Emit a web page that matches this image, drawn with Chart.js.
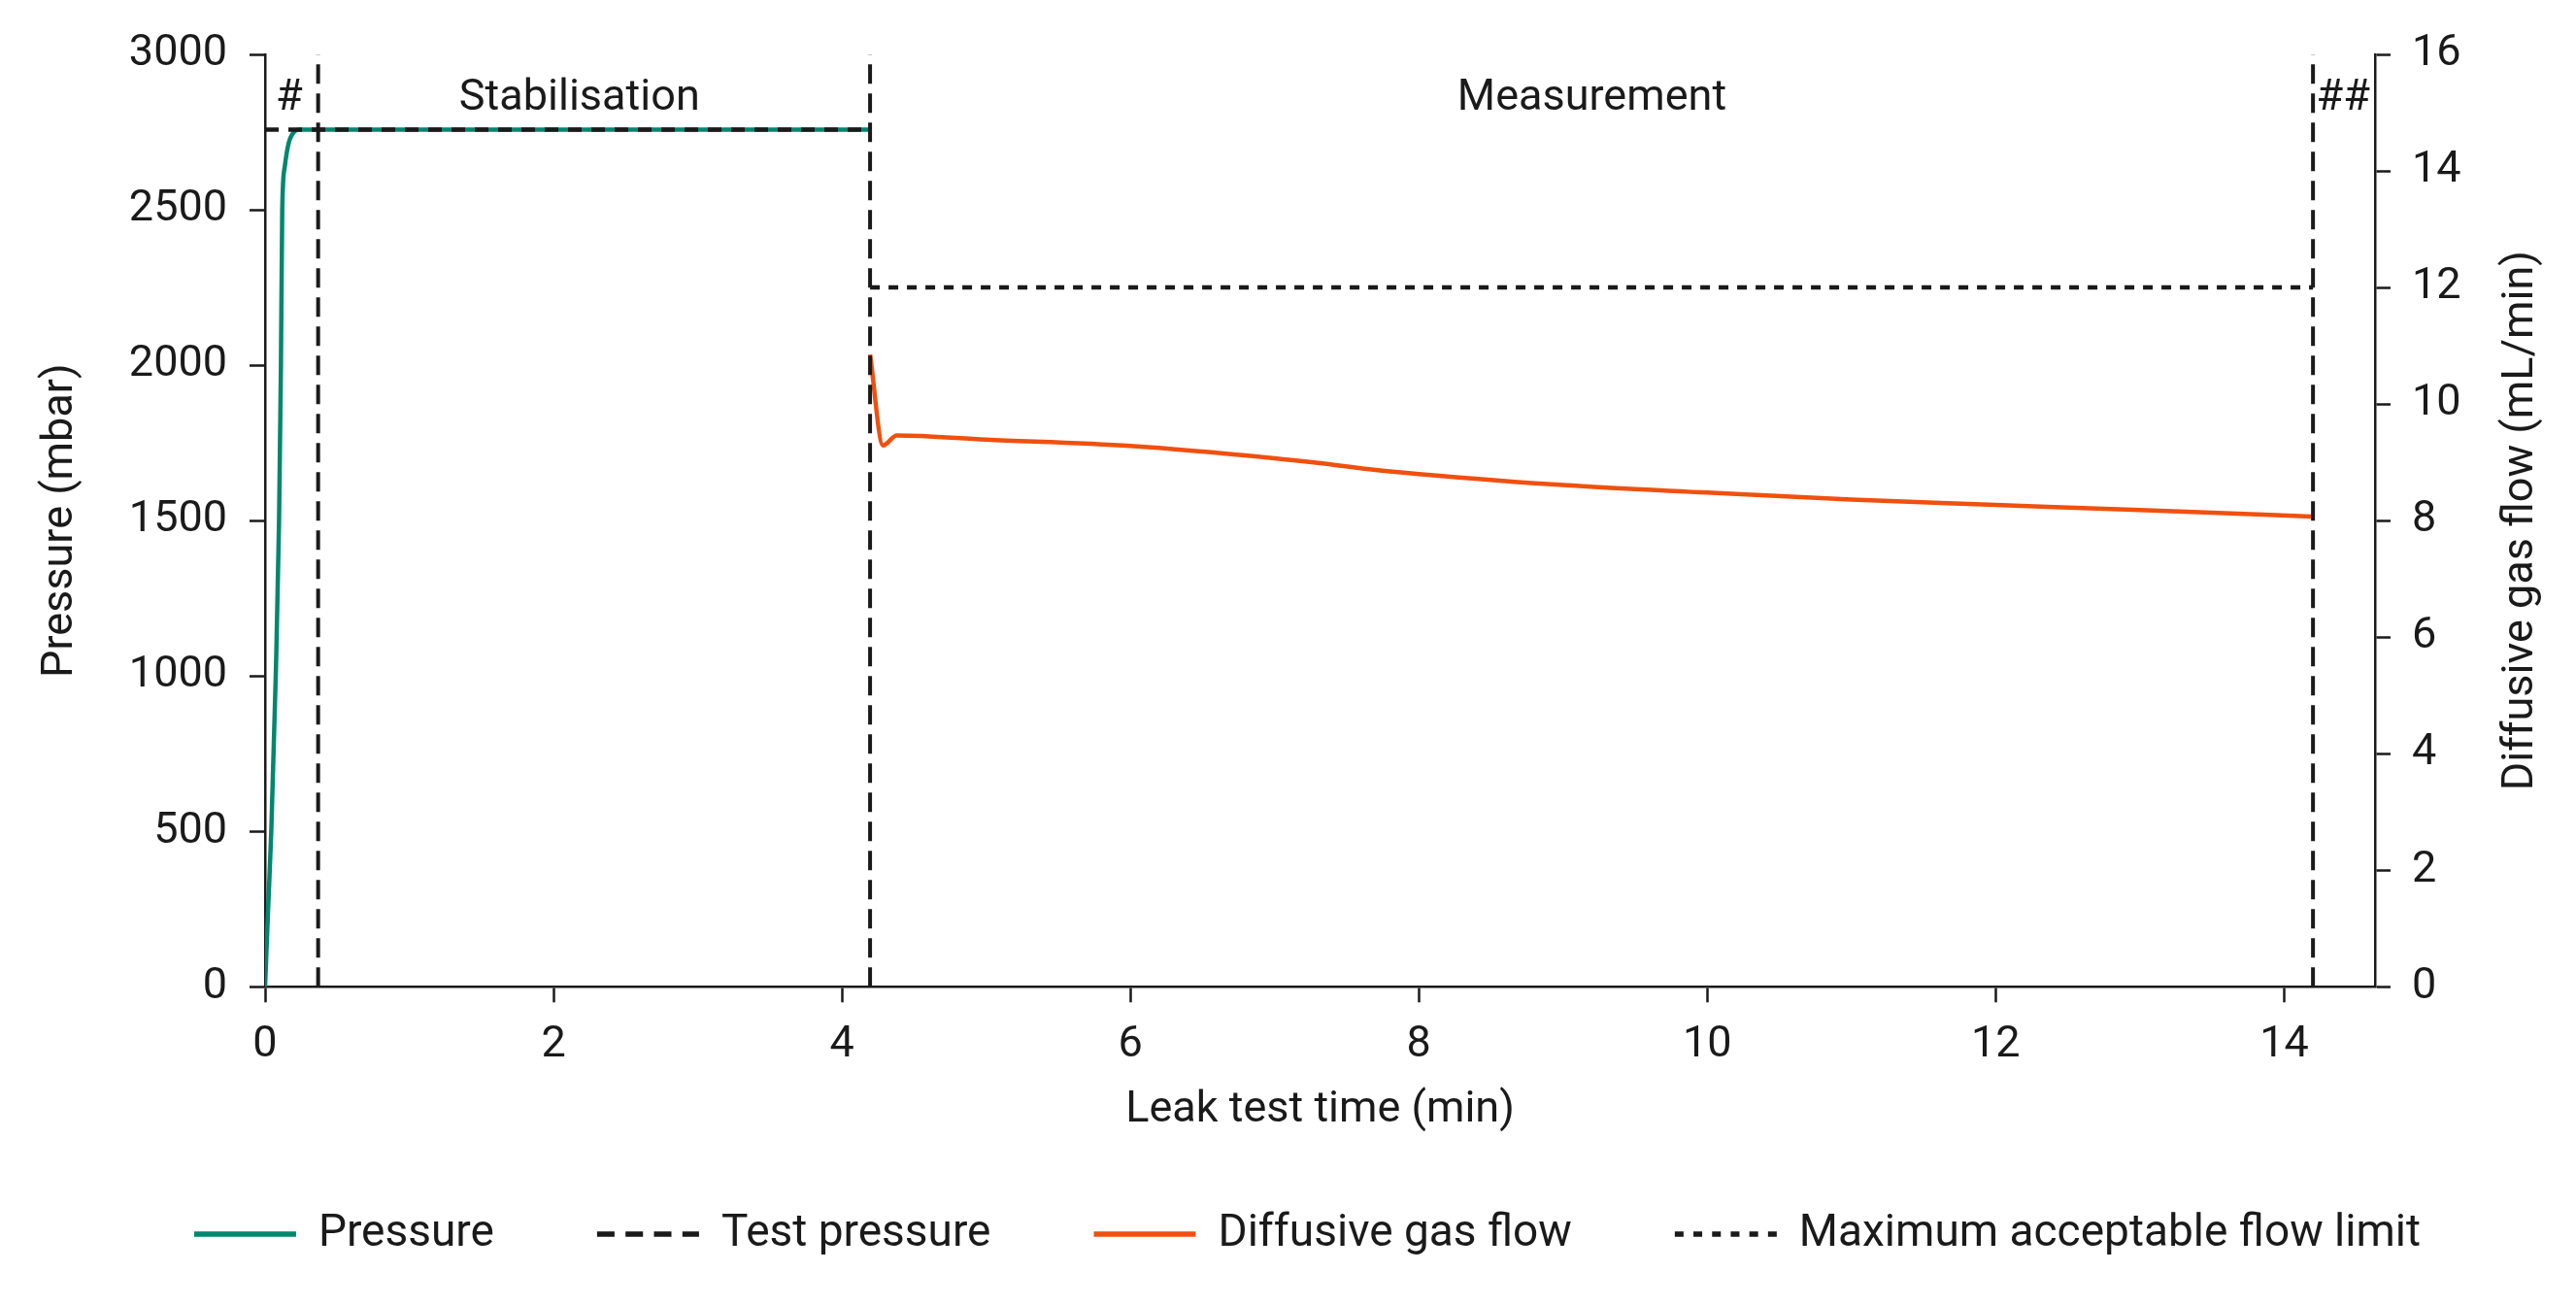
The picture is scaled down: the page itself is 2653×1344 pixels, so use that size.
<!DOCTYPE html>
<html>
<head>
<meta charset="utf-8">
<script src="https://cdn.jsdelivr.net/npm/chart.js@4.4.1/dist/chart.umd.min.js"></script>
<style>
  html, body { margin: 0; padding: 0; background: #fff; }
  canvas { display: block; }
</style>
</head>
<body>
<canvas id="leakChart" width="2653" height="1344"></canvas>
<script>
// pressure ramp and hold (min, mbar)
var pressureTime  = [0, 0.02, 0.043, 0.074, 0.097, 0.11, 0.119, 0.137, 0.164, 0.204, 0.238, 1.0, 2.0, 3.0, 4.195];
var pressureValue = [0, 238, 500, 1000, 1500, 2000, 2500, 2640, 2715, 2752, 2758, 2758, 2758, 2758, 2758];

var testPressureTime  = [0, 4.195];
var testPressureValue = [2758, 2758];

// diffusive flow during measurement (min, mL/min)
var flowTime  = [4.195, 4.285, 4.38, 5.0, 6.0, 7.0, 7.3, 7.7, 8.0, 9.0, 10.0, 11.0, 12.0, 13.0, 14.19];
var flowValue = [10.85, 9.29, 9.46, 9.39, 9.28, 9.07, 8.99, 8.87, 8.80, 8.61, 8.48, 8.36, 8.27, 8.18, 8.07];

var limitTime  = [4.195, 14.2];
var limitValue = [12, 12];

var phaseBoundaries = [0.368, 4.195, 14.2];
var phaseLabels     = ['#', 'Stabilisation', 'Measurement', '##'];
var phaseLabelTimes = [0.168, 2.18, 9.2, 14.41];
var phaseLabelLevel = 2856;

var timeTicks     = [0, 2, 4, 6, 8, 10, 12, 14];
var pressureTicks = [0, 500, 1000, 1500, 2000, 2500, 3000];
var flowTicks     = [0, 2, 4, 6, 8, 10, 12, 14, 16];
var timeMax = 14.63;

var flowAxisTitle = 'Diffusive gas flow (mL/min)';

var ink = '#1a1a1a';
var green = '#00876d';
var orange = '#f0500f';

function pts(xs, ys) {
    return xs.map(function (x, i) { return {x: x, y: ys[i]}; });
}

Chart.defaults.font.family = 'Roboto';
Chart.defaults.font.size = 45;
Chart.defaults.color = ink;

var datasets = [
    {label: 'Pressure', data: pts(pressureTime, pressureValue), yAxisID: 'y',
     borderColor: green, backgroundColor: green, borderWidth: 4.5,
     cubicInterpolationMode: 'monotone', order: 2},
    {label: 'Test pressure', data: pts(testPressureTime, testPressureValue), yAxisID: 'y',
     borderColor: ink, backgroundColor: ink, borderWidth: 4.5, borderDash: [14, 10], order: 1,
     legendDash: [18, 11.3]},
    {label: 'Diffusive gas flow', data: pts(flowTime, flowValue), yAxisID: 'y1',
     borderColor: orange, backgroundColor: orange, borderWidth: 4.5,
     cubicInterpolationMode: 'monotone', order: 2},
    {label: 'Maximum acceptable flow limit', data: pts(limitTime, limitValue), yAxisID: 'y1',
     borderColor: ink, backgroundColor: ink, borderWidth: 4.5, borderDash: [10, 9], order: 1,
     legendDash: [9, 10.2]}
];
phaseBoundaries.forEach(function (t) {
    datasets.push({label: 'phase', data: pts([t, t], [0, 3000]), yAxisID: 'y',
        borderColor: ink, borderWidth: 4, borderDash: [20, 10], order: 0});
});

// phase names and the right axis title (read bottom to top)
var phaseText = {
    id: 'phaseText',
    afterDatasetsDraw: function (chart) {
        var ctx = chart.ctx, xs = chart.scales.x, ys = chart.scales.y, y1 = chart.scales.y1;
        ctx.save();
        ctx.font = '45px Roboto';
        ctx.fillStyle = ink;
        ctx.textAlign = 'center';
        ctx.textBaseline = 'middle';
        phaseLabels.forEach(function (txt, i) {
            ctx.fillText(txt, xs.getPixelForValue(phaseLabelTimes[i]), ys.getPixelForValue(phaseLabelLevel));
        });
        ctx.translate(y1.right - 56, (y1.top + y1.bottom) / 2);
        ctx.rotate(-Math.PI / 2);
        ctx.fillText(flowAxisTitle, 0, 0);
        ctx.restore();
    }
};

var axisGrid = {drawOnChartArea: false, drawTicks: true, tickLength: 16, tickWidth: 2.5, tickColor: ink};
var axisBorder = {display: true, color: ink, width: 2.5};

new Chart(document.getElementById('leakChart'), {
    type: 'line',
    data: {datasets: datasets},
    plugins: [phaseText],
    options: {
        responsive: false,
        animation: false,
        devicePixelRatio: 1,
        layout: {padding: {top: 56, left: 40, right: 0, bottom: 40}},
        elements: {point: {radius: 0}, line: {borderCapStyle: 'butt'}},
        plugins: {
            tooltip: {enabled: false},
            legend: {
                position: 'bottom',
                labels: {
                    usePointStyle: true,
                    pointStyle: 'line',
                    pointStyleWidth: 105,
                    boxHeight: 46,
                    padding: 106,
                    font: {size: 46},
                    filter: function (item) { return item.datasetIndex < 4; },
                    sort: function (a, b) { return a.datasetIndex - b.datasetIndex; },
                    generateLabels: function (chart) {
                        var items = Chart.defaults.plugins.legend.labels.generateLabels(chart);
                        items.forEach(function (it) {
                            var ds = chart.data.datasets[it.datasetIndex];
                            it.lineDash = ds.legendDash || ds.borderDash || [];
                            it.lineWidth = 5.5;
                            it.strokeStyle = ds.borderColor;
                        });
                        return items;
                    }
                }
            }
        },
        scales: {
            x: {
                type: 'linear', min: 0, max: timeMax,
                afterBuildTicks: function (s) { s.ticks = timeTicks.map(function (v) { return {value: v}; }); },
                afterFit: function (s) { s.height = 125.7; },
                ticks: {padding: 17, maxRotation: 0, autoSkip: false, callback: function (v) { return String(v); }},
                grid: axisGrid,
                border: axisBorder,
                title: {display: true, text: 'Leak test time (min)', font: {size: 45}, padding: {top: 0, bottom: -29}}
            },
            y: {
                position: 'left', min: 0, max: 3000,
                afterBuildTicks: function (s) { s.ticks = pressureTicks.map(function (v) { return {value: v}; }); },
                afterFit: function (s) { s.width = 233; },
                ticks: {padding: 23, callback: function (v) { return String(v); }},
                grid: axisGrid,
                border: axisBorder,
                title: {display: true, text: 'Pressure (mbar)', font: {size: 45, lineHeight: 1}, padding: 0}
            },
            y1: {
                position: 'right', min: 0, max: 16,
                afterBuildTicks: function (s) { s.ticks = flowTicks.map(function (v) { return {value: v}; }); },
                afterFit: function (s) { s.width = 207; },
                ticks: {padding: 22, callback: function (v) { return String(v); }},
                grid: axisGrid,
                border: axisBorder,
                title: {display: false}
            }
        }
    }
});
</script>
</body>
</html>
